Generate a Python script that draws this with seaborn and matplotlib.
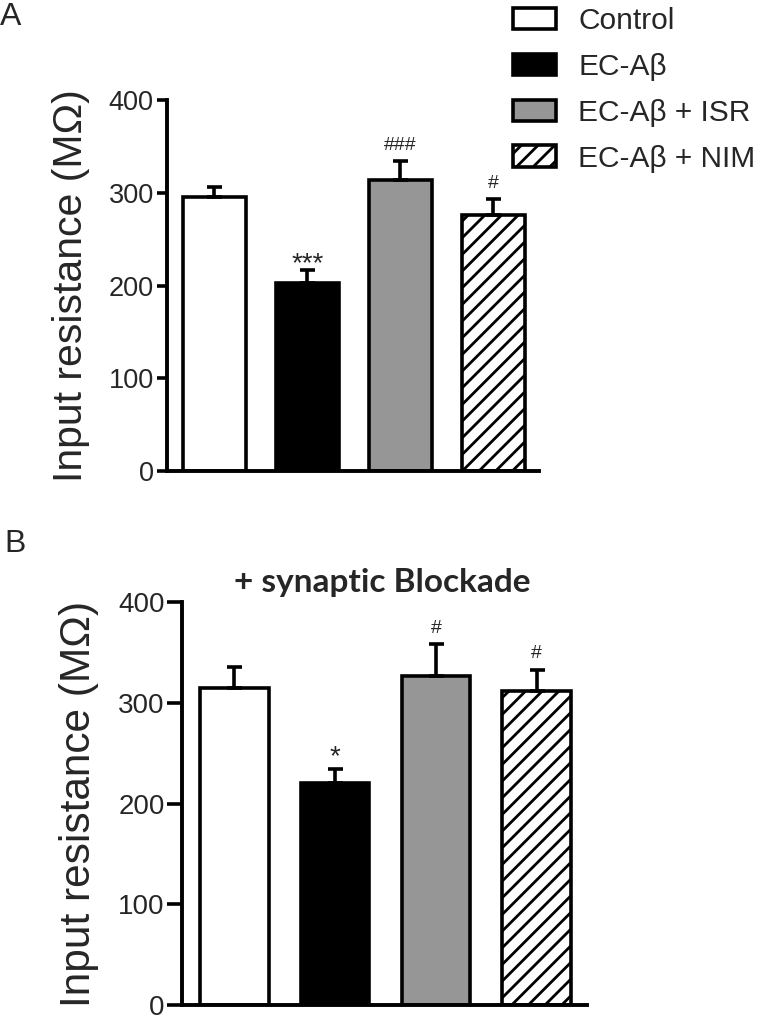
import matplotlib
matplotlib.use("Agg")
import matplotlib.pyplot as plt
import seaborn as sns
import pandas as pd
from matplotlib.patches import Patch

# ---- data ----
groups = ["Control", "EC-A\u03b2", "EC-A\u03b2 + ISR", "EC-A\u03b2 + NIM"]
colors = ["#ffffff", "#000000", "#969696", "#ffffff"]
hatches = ["", "", "", "//"]

vals_A = [295, 203, 314, 276]
errs_A = [11, 14, 20, 17]
sig_A = ["", "***", "###", "#"]

vals_B = [315, 220, 327, 312]
errs_B = [20, 14, 31, 21]
sig_B = ["", "*", "#", "#"]

yticks = [0, 100, 200, 300, 400]

sns.set_theme(style="white")
plt.rcParams["font.family"] = ["Liberation Sans", "DejaVu Sans"]
plt.rcParams["hatch.linewidth"] = 2.0
plt.rcParams["axes.linewidth"] = 2.8

W, H = 763, 1019
fig = plt.figure(figsize=(W / 100, H / 100), dpi=100)

axA = fig.add_axes([167 / W, (H - 471) / H, 372 / W, 371 / H])
axB = fig.add_axes([182 / W, (H - 1005) / H, 405 / W, 403 / H])


def draw(ax, vals, errs, sigs, xlim, tick_fs, label_fs, tick_len, star_fs,
         star_off, labelpad):
    df = pd.DataFrame({"group": groups, "value": vals})
    sns.barplot(data=df, x="group", y="value", hue="group", palette=colors,
                order=groups, hue_order=groups, edgecolor="black",
                linewidth=2.6, width=0.68, legend=False, ax=ax, errorbar=None)
    for p, h in zip(ax.patches, hatches):
        if h:
            p.set_hatch(h)
    xs = list(range(len(vals)))
    ax.errorbar(xs, vals, yerr=[[0] * len(vals), errs], fmt="none",
                ecolor="black", elinewidth=2.6, capsize=5.4, capthick=2.6,
                zorder=1)
    for x, v, e, s in zip(xs, vals, errs, sigs):
        if not s:
            continue
        if "*" in s:
            ax.annotate(s, (x, v + e), xytext=(0, star_off),
                        textcoords="offset points", ha="center",
                        va="baseline", fontsize=star_fs)
        else:
            ax.annotate(s, (x, v + e), xytext=(0, 8),
                        textcoords="offset points", ha="center",
                        va="baseline", fontsize=14)
    ax.set_xlim(*xlim)
    ax.set_ylim(0, 400)
    ax.set_yticks(yticks)
    ax.set_yticklabels([str(t) for t in yticks])
    ax.set_xticks([])
    ax.set_xlabel("")
    ax.set_ylabel("Input resistance (M\u03a9)", fontsize=label_fs,
                  labelpad=labelpad)
    ax.tick_params(axis="y", direction="out", length=tick_len, width=2.6,
                   pad=2, labelsize=tick_fs, left=True, color="black")
    sns.despine(ax=ax)
    for sp in ["left", "bottom"]:
        ax.spines[sp].set_color("black")
        ax.spines[sp].set_linewidth(2.8)


draw(axA, vals_A, errs_A, sig_A, (-0.51, 3.49), 19.5, 29.5, 7.5, 20, -1, 13)
draw(axB, vals_B, errs_B, sig_B, (-0.52, 3.50), 20, 30.5, 10.5, 20, 3.5, 14)

fig.text(382 / W, (H - 592) / H, "+ synaptic Blockade", ha="center",
         va="baseline", fontsize=24, fontweight="bold",
         family=["Lato", "DejaVu Sans"])

fig.text(0, (H - 25) / H, "A", ha="left", va="baseline", fontsize=23)
fig.text(4.5 / W, (H - 552) / H, "B", ha="left", va="baseline", fontsize=23)

handles = [Patch(facecolor=c, edgecolor="black", linewidth=2.6, hatch=h)
           for c, h in zip(colors, hatches)]
fig.legend(handles, groups, loc="upper left",
           bbox_to_anchor=(513 / W, (H - 7) / H), frameon=False,
           fontsize=21.5, handlelength=1.44, handleheight=0.74,
           handletextpad=0.75, labelspacing=0.60, borderpad=0,
           borderaxespad=0)

fig.savefig("out.png", dpi=100)
